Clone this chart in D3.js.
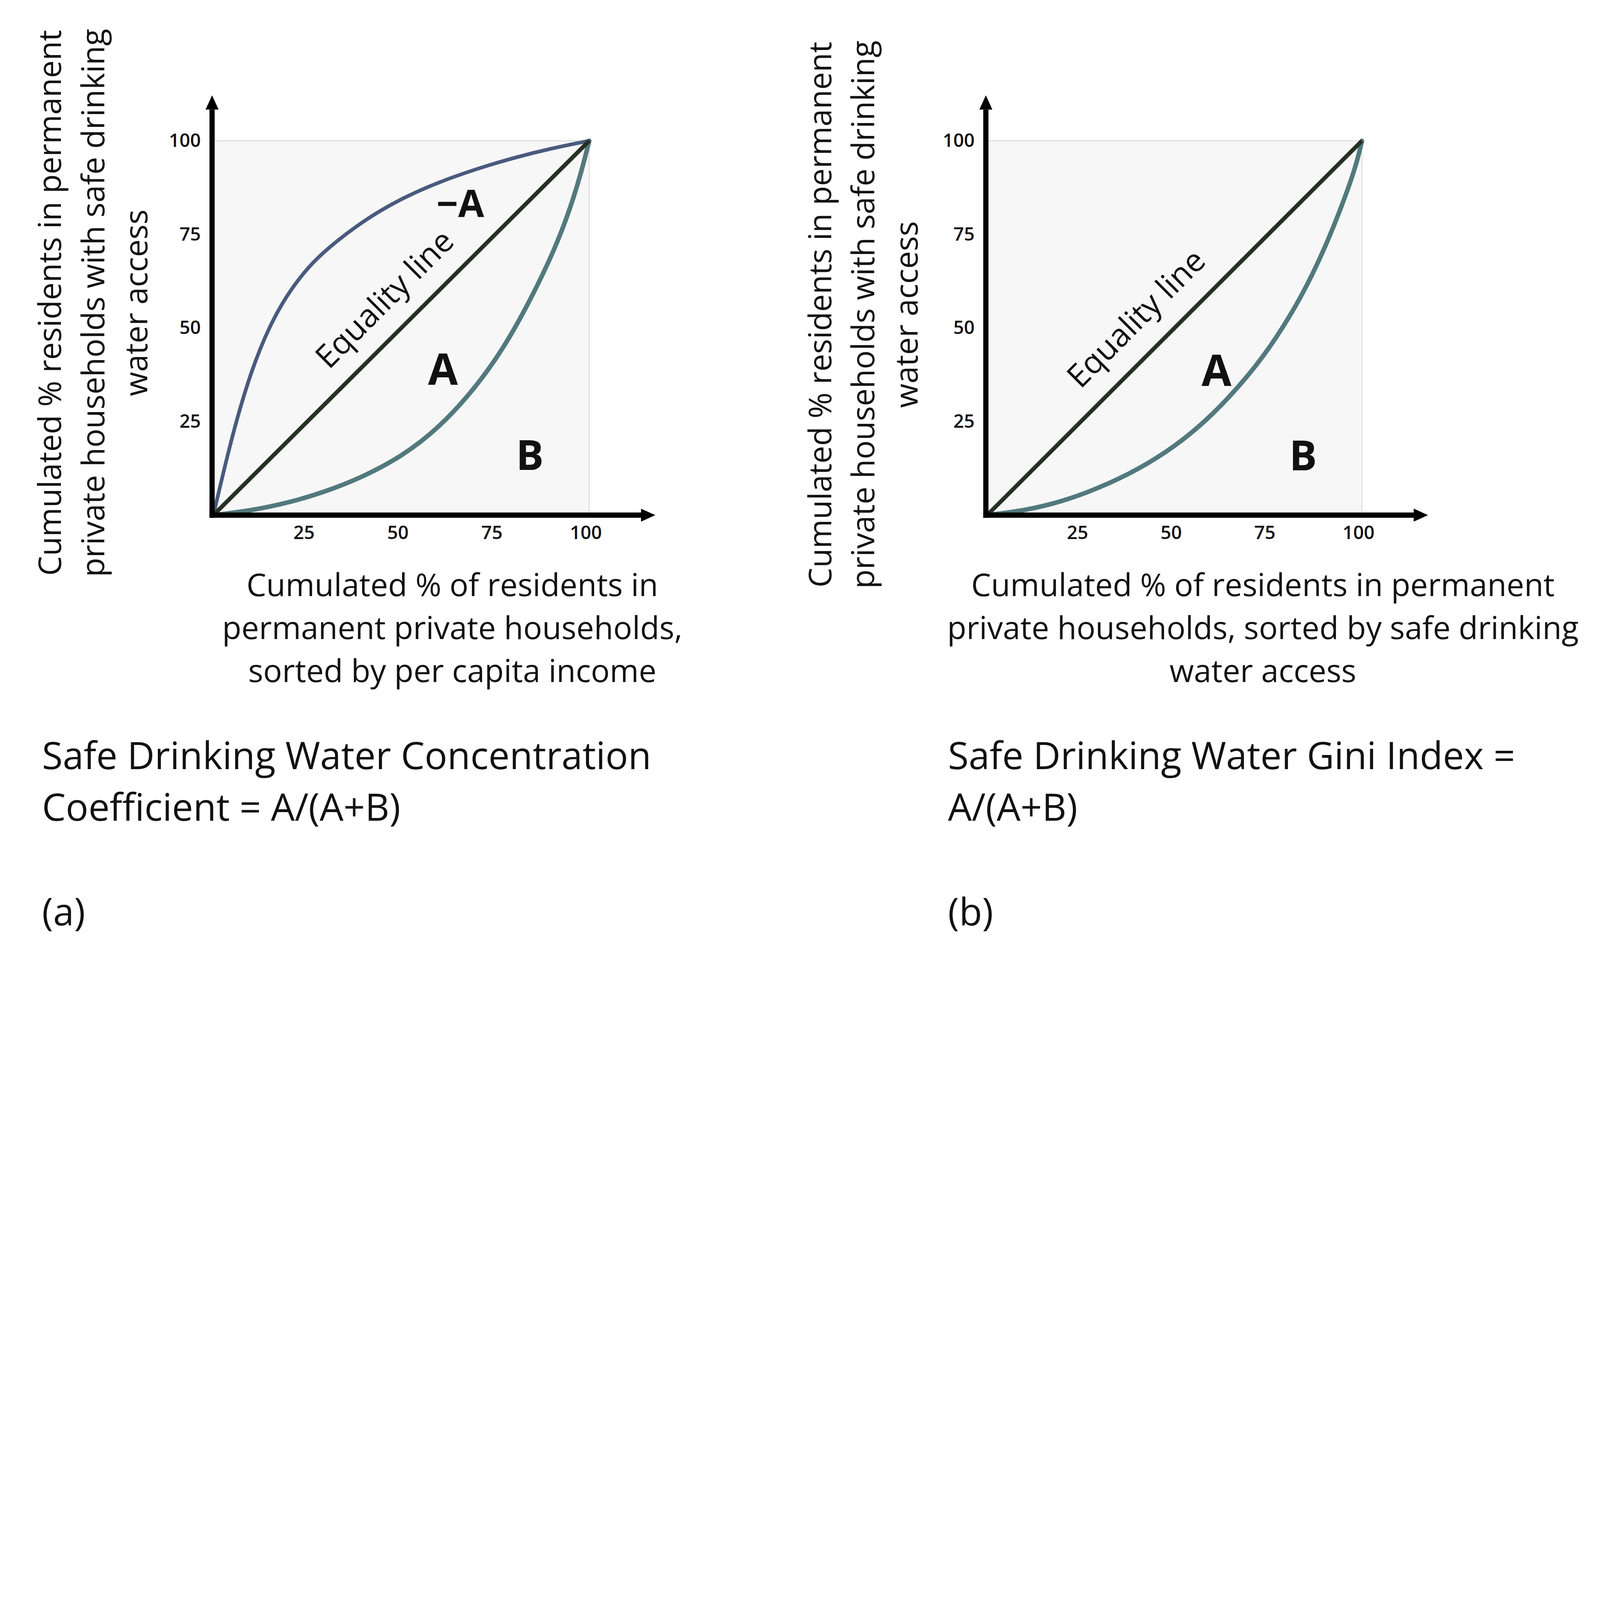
<!DOCTYPE html>
<html>
<head>
<meta charset="utf-8">
<script src="https://cdn.jsdelivr.net/npm/d3@7/dist/d3.min.js"></script>
<style>
  html, body { margin: 0; padding: 0; background: #fff; width: 100%; height: 100%; overflow: hidden; }
  svg { display: block; width: 100vw; height: 100vh; }
  text { font-family: "Open Sans", sans-serif; fill: #111; }
</style>
</head>
<body>
<svg id="chart" viewBox="0 0 7386 4348" preserveAspectRatio="xMinYMin meet"></svg>
<script>
// tick values on both axes
var ticks = [25, 50, 75, 100];

// equality line
var equalityX = [0, 100];
var equalityY = [0, 100];

// (a) concentration curve, above the diagonal
var concX = [0, 5, 10, 15, 20, 25, 30, 40, 50, 60, 70, 80, 90, 100];
var concY = [0, 21.5, 38.5, 50.8, 59.5, 66, 71, 78.8, 84.6, 89, 92.5, 95.5, 98, 100];

// (a) lorenz curve, below the diagonal
var lorAX = [0, 10, 20, 30, 40, 50, 60, 70, 77.6, 84.1, 90.6, 95, 98, 100];
var lorAY = [0, 1.2, 3.3, 6.3, 10.3, 15.6, 23.2, 34.3, 45.2, 57, 70.4, 82, 92, 100];

// (b) lorenz curve
var lorBX = [0, 10, 20, 30, 40, 50, 60, 70, 77, 84, 90, 95, 98.5, 100];
var lorBY = [0, 1.2, 3.6, 7.3, 12, 18.2, 26.5, 37.5, 47, 58.5, 71, 83.5, 93.5, 100];

var yTitleA = ["Cumulated % residents in permanent", "private households with safe drinking", "water access"];
var xTitleA = ["Cumulated % of residents in", "permanent private households,", "sorted by per capita income"];
var captionA = ["Safe Drinking Water Concentration", "Coefficient = A/(A+B)"];

var yTitleB = ["Cumulated % residents in permanent", "private households with safe drinking", "water access"];
var xTitleB = ["Cumulated % of residents in permanent", "private households, sorted by safe drinking", "water access"];
var captionB = ["Safe Drinking Water Gini Index =", "A/(A+B)"];

var svg = d3.select("#chart");

var defs = svg.append("defs");
defs.append("marker")
    .attr("id", "arrow")
    .attr("markerUnits", "userSpaceOnUse")
    .attr("viewBox", "0 0 66 60")
    .attr("markerWidth", 66)
    .attr("markerHeight", 60)
    .attr("refX", 0)
    .attr("refY", 30)
    .attr("orient", "auto")
    .append("path")
    .attr("d", "M0,0 L66,30 L0,60 Z")
    .attr("fill", "#000");

var panels = [
    {
        left: 985, top: 650, w: 1735, h: 1728,
        yTitle: yTitleA, yTitleX: 282, yTitleY: 1398,
        xTitle: xTitleA, xTitleX: 2088,
        caption: captionA, capX: 194, tag: "(a)",
        eqPos: [45.3, 58.0],
        curves: [
            { xs: lorAX, ys: lorAY, color: "#52797d", width: 21 },
            { xs: concX, ys: concY, color: "#4a5a7e", width: 17 }
        ],
        labels: [
            { t: "\u2212A", x: 65.7, y: 83.5, size: 174 },
            { t: "A", x: 61.1, y: 39.4, size: 200 },
            { t: "B", x: 84.2, y: 16.4, size: 190 }
        ]
    },
    {
        left: 4557, top: 650, w: 1730, h: 1728,
        yTitle: yTitleB, yTitleX: 3837, yTitleY: 1452,
        xTitle: xTitleB, xTitleX: 5830,
        caption: captionB, capX: 4376, tag: "(b)",
        eqPos: [39.5, 52.8],
        curves: [
            { xs: lorBX, ys: lorBY, color: "#52797d", width: 21 }
        ],
        labels: [
            { t: "A", x: 61.2, y: 39.1, size: 200 },
            { t: "B", x: 84.3, y: 16.3, size: 190 }
        ]
    }
];

panels.forEach(function (p) {
    var x = d3.scaleLinear().domain([0, 100]).range([p.left, p.left + p.w]);
    var y = d3.scaleLinear().domain([0, 100]).range([p.top + p.h, p.top]);
    var g = svg.append("g");

    // plot background
    g.append("rect")
        .attr("x", x(0))
        .attr("y", y(100))
        .attr("width", x(100) - x(0))
        .attr("height", y(0) - y(100))
        .attr("fill", "#f7f7f7")
        .attr("stroke", "#cdcdcd")
        .attr("stroke-width", 3);

    var line = d3.line()
        .x(function (d) { return x(d[0]); })
        .y(function (d) { return y(d[1]); })
        .curve(d3.curveBasis);

    p.curves.forEach(function (c) {
        g.append("path")
            .datum(d3.zip(c.xs, c.ys))
            .attr("d", line)
            .attr("fill", "none")
            .attr("stroke", c.color)
            .attr("stroke-width", c.width)
            .attr("stroke-linecap", "round");
    });

    g.append("path")
        .datum(d3.zip(equalityX, equalityY))
        .attr("d", d3.line().x(function (d) { return x(d[0]); }).y(function (d) { return y(d[1]); }))
        .attr("fill", "none")
        .attr("stroke", "#263024")
        .attr("stroke-width", 19);

    // axes
    var yAxis = d3.axisLeft(y).tickValues(ticks).tickSize(0).tickPadding(52);
    var xAxis = d3.axisBottom(x).tickValues(ticks).tickSize(0).tickPadding(50);

    var gy = g.append("g").attr("transform", "translate(" + (x(0) - 6) + ",0)").call(yAxis);
    var gx = g.append("g").attr("transform", "translate(0," + y(0) + ")").call(xAxis);
    [gy, gx].forEach(function (a) {
        a.select(".domain").remove();
        a.selectAll("text")
            .attr("font-size", 86)
            .attr("font-weight", 600)
            .attr("font-family", "Open Sans")
            .attr("fill", "#1a1a1a");
    });
    gx.selectAll("text").attr("dx", -16);

    g.append("line")
        .attr("x1", x(0) - 6).attr("y1", y(0) + 12)
        .attr("x2", x(0) - 6).attr("y2", y(100) - 210 + 66)
        .attr("stroke", "#000").attr("stroke-width", 24)
        .attr("marker-end", "url(#arrow)");
    g.append("line")
        .attr("x1", x(0) - 18).attr("y1", y(0))
        .attr("x2", x(100) + 305 - 66).attr("y2", y(0))
        .attr("stroke", "#000").attr("stroke-width", 24)
        .attr("marker-end", "url(#arrow)");

    // equality label
    g.append("text")
        .attr("transform", "translate(" + x(p.eqPos[0]) + "," + y(p.eqPos[1]) + ") rotate(-45)")
        .attr("text-anchor", "middle")
        .attr("dominant-baseline", "central")
        .attr("font-size", 147)
        .text("Equality line");

    // area labels
    p.labels.forEach(function (l) {
        g.append("text")
            .attr("x", x(l.x))
            .attr("y", y(l.y))
            .attr("text-anchor", "middle")
            .attr("dominant-baseline", "central")
            .attr("font-size", l.size)
            .attr("font-weight", 700)
            .text(l.t);
    });

    // y title
    var yt = g.append("text")
        .attr("transform", "translate(" + p.yTitleX + "," + p.yTitleY + ") rotate(-90)")
        .attr("text-anchor", "middle")
        .attr("font-size", 145);
    p.yTitle.forEach(function (s, i) {
        yt.append("tspan").attr("x", 0).attr("y", i * 199).text(s);
    });

    // x title
    var xt = g.append("text")
        .attr("text-anchor", "middle")
        .attr("font-size", 145);
    p.xTitle.forEach(function (s, i) {
        xt.append("tspan").attr("x", p.xTitleX).attr("y", 2752 + i * 198).text(s);
    });

    // caption
    var cp = g.append("text").attr("font-size", 174);
    p.caption.forEach(function (s, i) {
        cp.append("tspan").attr("x", p.capX).attr("y", 3550 + i * 238).text(s);
    });
    g.append("text")
        .attr("x", p.capX)
        .attr("y", 4272)
        .attr("font-size", 174)
        .text(p.tag);
});
</script>
</body>
</html>
